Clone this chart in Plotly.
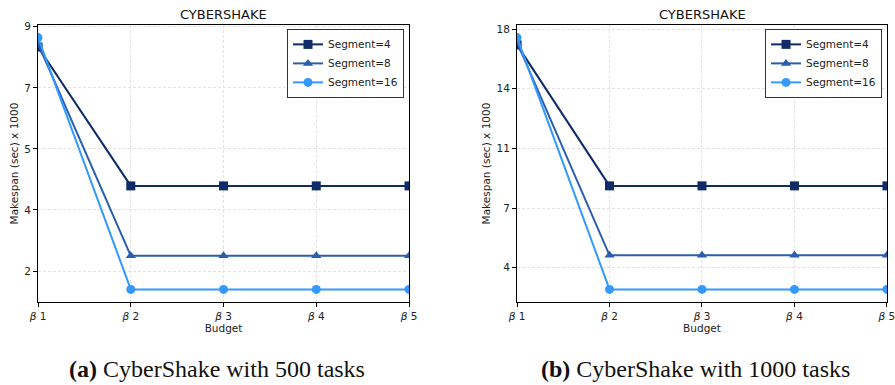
import plotly.graph_objects as go

# Budget levels on the x axis
budgets = ["β1", "β2", "β3", "β4", "β5"]
budget_labels = ["<i>β</i> 1", "<i>β</i> 2", "<i>β</i> 3", "<i>β</i> 4", "<i>β</i> 5"]

# Makespan (sec x 1000), CyberShake with 500 tasks
tasks500_seg4 = [8.40, 4.31, 4.31, 4.31, 4.31]
tasks500_seg8 = [8.50, 2.25, 2.25, 2.25, 2.25]
tasks500_seg16 = [8.68, 1.26, 1.26, 1.26, 1.26]

# Makespan (sec x 1000), CyberShake with 1000 tasks
tasks1000_seg4 = [17.05, 8.54, 8.54, 8.54, 8.54]
tasks1000_seg8 = [17.20, 4.35, 4.35, 4.35, 4.35]
tasks1000_seg16 = [17.49, 2.29, 2.29, 2.29, 2.29]

# Y tick positions and their (rounded) labels
ytick_vals_500 = [1.8, 3.6, 5.4, 7.2, 9.0]
ytick_text_500 = ["2", "4", "5", "7", "9"]
ytick_vals_1000 = [3.6, 7.2, 10.8, 14.4, 18.0]
ytick_text_1000 = ["4", "7", "11", "14", "18"]

series_names = ["Segment=4", "Segment=8", "Segment=16"]
colors = ["#0f2b68", "#2a5eae", "#3399ff"]
symbols = ["square", "triangle-up", "circle"]

panels = [
    ("x", "y", "legend", [tasks500_seg4, tasks500_seg8, tasks500_seg16]),
    ("x2", "y2", "legend2", [tasks1000_seg4, tasks1000_seg8, tasks1000_seg16]),
]

fig = go.Figure()
x_idx = list(range(len(budgets)))
for xa, ya, leg, series in panels:
    for name, color, sym, vals in zip(series_names, colors, symbols, series):
        fig.add_trace(go.Scatter(
            x=x_idx, y=vals, name=name, mode="lines+markers",
            xaxis=xa, yaxis=ya, legend=leg,
            line=dict(color=color, width=2),
            marker=dict(symbol=sym, size=9, color=color),
            cliponaxis=True,
        ))

def yrange(seriess):
    lo = min(min(s) for s in seriess)
    hi = max(max(s) for s in seriess)
    pad = (hi - lo) * 0.05
    return [lo - pad, hi + pad]

font = dict(family="DejaVu Sans", size=10.5, color="#222222")
grid = dict(showgrid=True, gridcolor="#e2e2e2", griddash="3px,2px", gridwidth=1)
axis_common = dict(showline=True, linecolor="black", linewidth=1.2, mirror=True,
                   ticks="outside", ticklen=4, tickcolor="black", zeroline=False,
                   automargin=False, tickfont=font, ticklabeloverflow="allow", **grid)

legend_style = dict(bgcolor="white", bordercolor="#333333", borderwidth=1,
                    font=dict(family="DejaVu Sans", size=10.5, color="#222222"),
                    tracegroupgap=0, itemwidth=30, yanchor="top", xanchor="right")

fig.update_layout(
    width=895, height=385,
    margin=dict(l=0, r=0, t=0, b=0, autoexpand=False),
    paper_bgcolor="white", plot_bgcolor="white",
    font=font,
    xaxis=dict(domain=[0.0425, 0.457], range=[0, 4], tickvals=x_idx, ticktext=budget_labels,
               title=dict(text="Budget", font=font, standoff=3), **axis_common),
    yaxis=dict(domain=[0.2156, 0.935], range=yrange(panels[0][3]),
               tickvals=ytick_vals_500, ticktext=ytick_text_500,
               title=dict(text="Makespan (sec) x 1000", font=font, standoff=3), **axis_common),
    xaxis2=dict(domain=[0.5777, 0.991], range=[0, 4], tickvals=x_idx, ticktext=budget_labels,
                anchor="y2",
                title=dict(text="Budget", font=font, standoff=3), **axis_common),
    yaxis2=dict(domain=[0.2156, 0.935], range=yrange(panels[1][3]), anchor="x2",
                tickvals=ytick_vals_1000, ticktext=ytick_text_1000,
                title=dict(text="Makespan (sec) x 1000", font=font, standoff=3), **axis_common),
    legend=dict(x=0.4514, y=0.925, **legend_style),
    legend2=dict(x=0.9855, y=0.925, **legend_style),
)

titles = [("CYBERSHAKE", 0.2497), ("CYBERSHAKE", 0.7844)]
for text, xc in titles:
    fig.add_annotation(text=text, x=xc, y=(385 - 14) / 385, xref="paper", yref="paper",
                       showarrow=False, xanchor="center", yanchor="middle",
                       font=dict(family="DejaVu Sans", size=13, color="#111111"))

captions = [("<b>(a)</b> CyberShake with 500 tasks", 217 / 895),
            ("<b>(b)</b> CyberShake with 1000 tasks", 695 / 895)]
for text, xc in captions:
    fig.add_annotation(text=text, x=xc, y=(385 - 369) / 385, xref="paper", yref="paper",
                       showarrow=False, xanchor="center", yanchor="middle",
                       font=dict(family="Liberation Serif", size=24, color="#111111"))

fig.write_html("out.html")
